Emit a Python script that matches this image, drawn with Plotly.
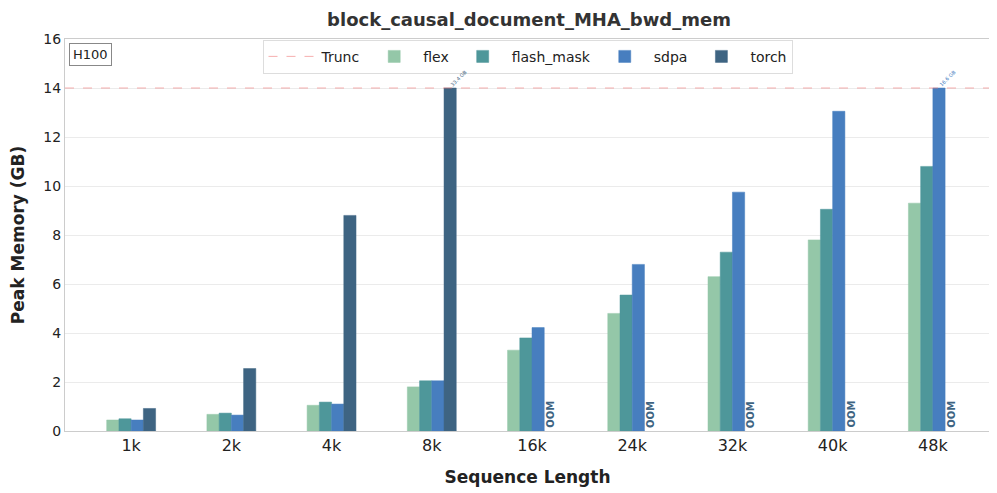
import plotly.graph_objects as go

categories = ["1k", "2k", "4k", "8k", "16k", "24k", "32k", "40k", "48k"]
flex = [0.45, 0.68, 1.05, 1.80, 3.30, 4.80, 6.30, 7.80, 9.30]
flash_mask = [0.50, 0.73, 1.18, 2.05, 3.80, 5.55, 7.30, 9.05, 10.80]
sdpa = [0.45, 0.65, 1.10, 2.05, 4.22, 6.80, 9.75, 13.05, 16.6]
torch = [0.92, 2.55, 8.80, 33.4, None, None, None, None, None]
trunc = 14.0

series = [("flex", flex, "#94c7a8"), ("flash_mask", flash_mask, "#4e979a"),
          ("sdpa", sdpa, "#477ebf"), ("torch", torch, "#3e6482")]
w = 0.122
offsets = [-1.5 * w, -0.5 * w, 0.5 * w, 1.5 * w]

fig = go.Figure()
fig.add_trace(go.Scatter(x=[None], y=[None], mode="lines", name="Trunc",
                         line=dict(color="rgba(240,120,120,0.6)", width=1, dash="dash")))
annotations = []
for (name, vals, color), off in zip(series, offsets):
    xs = [i + off for i in range(len(categories))]
    ys = [None if v is None else min(v, trunc) for v in vals]
    fig.add_trace(go.Bar(x=xs, y=ys, width=w, name=name, marker_color=color,
                         marker_line=dict(color=color, width=0.5)))
    for i, v in enumerate(vals):
        if v is None:
            annotations.append(dict(x=xs[i], y=0, xref="x", yref="y", text="<b>OOM</b>",
                                    showarrow=False, textangle=-90, yanchor="bottom",
                                    font=dict(size=10, color=color), yshift=1))
        elif v > trunc:
            annotations.append(dict(x=xs[i], y=trunc, xref="x", yref="y", text=f"{v:.1f} GB",
                                    showarrow=False, textangle=-45, xanchor="left", yanchor="bottom",
                                    font=dict(size=5, color=color), xshift=-4, yshift=-2))

fig.add_shape(type="line", xref="paper", x0=0, x1=1, yref="y", y0=trunc, y1=trunc,
              line=dict(color="rgba(240,120,120,0.6)", width=1, dash="dash"))
annotations.append(dict(x=0.004, y=0.99, xref="paper", yref="paper", text="H100", showarrow=False,
                        xanchor="left", yanchor="top", font=dict(size=13, color="#222"),
                        bordercolor="#888", borderwidth=1, borderpad=3, bgcolor="white"))

fig.update_layout(
    width=997, height=493,
    margin=dict(l=57, r=15, t=31, b=70),
    paper_bgcolor="white", plot_bgcolor="white",
    font=dict(family="DejaVu Sans", color="#333"),
    title=dict(text="<b>block_causal_document_MHA_bwd_mem</b>", x=0.5226, xanchor="center",
               yref="container", y=1, yanchor="top", pad=dict(t=5),
               font=dict(size=18, color="#333")),
    barmode="overlay",
    showlegend=True,
    legend=dict(orientation="h", x=0.5, xanchor="center", y=0.998, yanchor="top",
                bordercolor="#ddd", borderwidth=1, bgcolor="rgba(255,255,255,0.9)",
                font=dict(size=14, color="#222"), itemwidth=48, traceorder="normal"),
    annotations=annotations,
)
fig.update_xaxes(range=[-0.66, 8.57], tickvals=list(range(len(categories))), ticktext=categories,
                 tickfont=dict(size=16, color="#222"), showgrid=False, zeroline=False,
                 showline=True, linecolor="#ccc", mirror=True, automargin=False,
                 title=dict(text="<b>Sequence Length</b>", font=dict(size=17, color="#222"), standoff=16))
fig.update_yaxes(range=[0, 16], dtick=2, tickfont=dict(size=14, color="#222"), showgrid=True,
                 gridcolor="#ebebeb", zeroline=False, showline=True, linecolor="#ccc", mirror=True,
                 automargin=False,
                 title=dict(text="<b>Peak Memory (GB)</b>", font=dict(size=17, color="#222"), standoff=20))

fig.write_html("out.html")
